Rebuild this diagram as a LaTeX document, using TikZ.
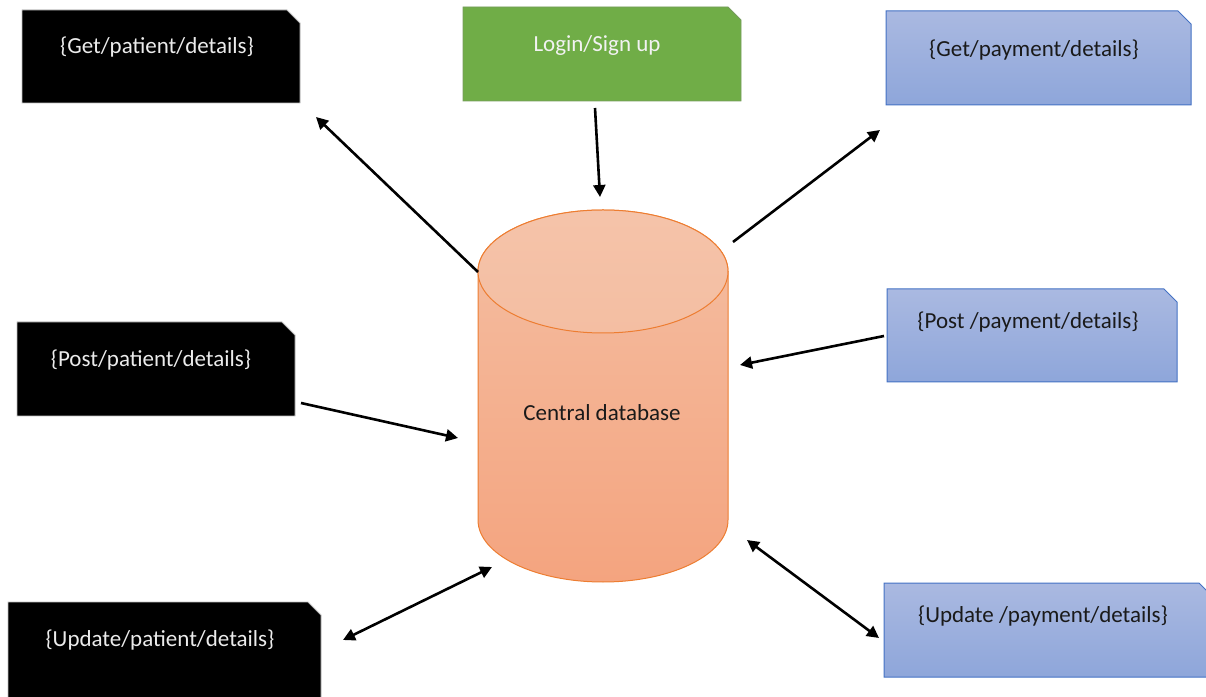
\documentclass[tikz,border=0pt]{standalone}
\usepackage{fontspec}
\setmainfont{Carlito}
\usetikzlibrary{arrows.meta}
\definecolor{grn}{HTML}{70AD47}
\definecolor{grnb}{HTML}{548235}
\definecolor{bluet}{HTML}{AAB9E1}
\definecolor{blueb}{HTML}{8EA6DA}
\definecolor{blued}{HTML}{4472C4}
\definecolor{cylt}{HTML}{F4BEA2}
\definecolor{cylb}{HTML}{F4A47F}
\definecolor{cyld}{HTML}{ED7D31}
\definecolor{txtd}{HTML}{1A1A1A}
\newcommand\snipbox[2]{\path[#2] (#1.south west) -- (#1.north west) -- ([xshift=-13pt]#1.north east) -- ([yshift=-13pt]#1.north east) -- (#1.south east) -- cycle;}
\tikzset{
  boxarea/.style={inner sep=0pt, outer sep=0pt, minimum width=#1},
  blackbox/.style={fill=black, draw=black!25, line width=0.8pt},
  greenbox/.style={fill=grn, draw=grnb!80, line width=0.8pt},
  bluebox/.style={top color=bluet, bottom color=blueb, draw=blued, line width=1pt},
  lbl/.style={font=\fontsize{23}{27}\selectfont, inner sep=0pt},
  conn/.style={line width=2.6pt, -{Triangle[width=12pt,length=12pt]}},
  dconn/.style={line width=2.6pt, {Triangle[width=12pt,length=12pt]}-{Triangle[width=12pt,length=12pt]}}
}
\begin{document}
\begin{tikzpicture}[x=1pt,y=1pt]
\useasboundingbox (0,0) rectangle (1206,696);
\begin{scope}
\clip (0,0) rectangle (1206,696);
% box areas
\node[boxarea=278pt, minimum height=93pt] (gp) at (161,639.5) {};
\node[boxarea=278pt, minimum height=94pt] (login) at (602,642) {};
\node[boxarea=305pt, minimum height=94pt] (gpay) at (1038.5,638) {};
\node[boxarea=278pt, minimum height=94pt] (pp) at (156,327) {};
\node[boxarea=290pt, minimum height=93pt] (ppay) at (1032,360.5) {};
\node[boxarea=313pt, minimum height=96pt] (up) at (164.5,46) {};
\node[boxarea=328pt, minimum height=94pt] (upay) at (1048,66) {};
\snipbox{gp}{blackbox}
\snipbox{login}{greenbox}
\snipbox{gpay}{bluebox}
\snipbox{pp}{blackbox}
\snipbox{ppay}{bluebox}
\snipbox{up}{blackbox}
\snipbox{upay}{bluebox}
% cylinder
\shade[top color=cylt, bottom color=cylb, draw=cyld, line width=1pt]
  (478,424.5) -- (478,176) arc[start angle=180, end angle=360, x radius=125pt, y radius=62pt]
  -- (728,424.5) arc[start angle=0, end angle=180, x radius=125pt, y radius=61.5pt] -- cycle;
\shade[top color=cylt!92!white, bottom color=cylt, draw=cyld, line width=1pt]
  (603,424.5) ellipse[x radius=125pt, y radius=61.5pt];
\node[lbl, text=txtd] (db) at (602,283) {Central database};
% labels
\node[lbl, text=white!92!black] (tgp) at (157,649) {\{Get/patient/details\}};
\node[lbl, text=white!95!black] (tlogin) at (597,651) {Login/Sign up};
\node[lbl, text=txtd] (tgpay) at (1034,646) {\{Get/payment/details\}};
\node[lbl, text=white!92!black] (tpp) at (151,336) {\{Post/patient/details\}};
\node[lbl, text=txtd] (tppay) at (1028,374) {\{Post /payment/details\}};
\node[lbl, text=white!92!black] (tup) at (160,56) {\{Update/patient/details\}};
\node[lbl, text=txtd] (tupay) at (1043,80) {\{Update /payment/details\}};
% connector ends
\coordinate (a1s) at (478,424);
\coordinate (a1e) at (316,579);
\coordinate (a2s) at (595,588);
\coordinate (a2e) at (600,499);
\coordinate (a3s) at (733,454);
\coordinate (a3e) at (880,566);
\coordinate (a4s) at (884,360);
\coordinate (a4e) at (740,331);
\coordinate (a5s) at (301,293);
\coordinate (a5e) at (458,258);
\coordinate (a6s) at (343,56);
\coordinate (a6e) at (492,129);
\coordinate (a7s) at (747,156);
\coordinate (a7e) at (879,58);
\draw[conn] (a1s) -- (a1e);
\draw[conn] (a2s) -- (a2e);
\draw[conn] (a3s) -- (a3e);
\draw[conn] (a4s) -- (a4e);
\draw[conn] (a5s) -- (a5e);
\draw[dconn] (a6s) -- (a6e);
\draw[dconn] (a7s) -- (a7e);
\end{scope}
\end{tikzpicture}
\end{document}
